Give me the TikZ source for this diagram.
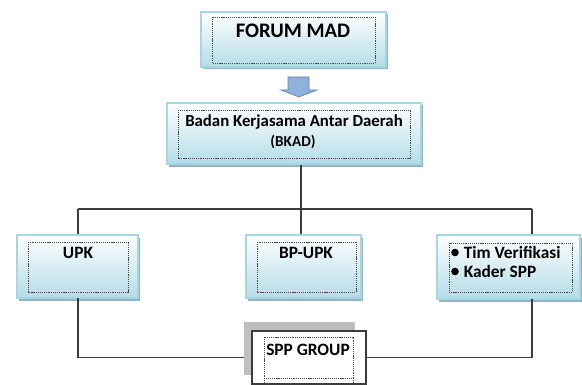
\documentclass[tikz,border=0pt]{standalone}
\usepackage{fontspec}
\setmainfont{Carlito}
\usetikzlibrary{calc}
\definecolor{boxedge}{HTML}{A6D6E3}
\definecolor{boxfill}{HTML}{B3DCE7}
\definecolor{boxshade}{HTML}{93B5C1}
\definecolor{linkcol}{HTML}{3C3C3C}
\definecolor{arrowfill}{HTML}{8EB1DE}
\definecolor{arrowedge}{HTML}{5F82AE}
\begin{document}
\begin{tikzpicture}[x=0.75pt,y=-0.75pt,
  orgbox/.style={draw=boxedge, line width=1.1pt, top color=white, bottom color=boxfill,
    inner sep=0pt, rectangle},
  innerbox/.style={draw=black!70, line width=0.45pt, dash pattern=on 0.9pt off 0.7pt},
  link/.style={draw=linkcol, line width=0.8pt},
  linkshade/.style={draw=black!25, line width=0.8pt, yshift=-0.8pt},
  lbl/.style={font=\bfseries, inner sep=0pt, text=black},
  midlbl/.style={lbl, font=\bfseries\fontsize{13}{15}\selectfont},
]
\useasboundingbox (0,0) rectangle (582,385);

% box with a soft shadow; name, x1, y1, x2, y2
\newcommand\orgnode[5]{%
  \fill[boxshade] (#2+2,#3+2.5) rectangle (#4+2,#5+2.5);
  \node[orgbox, minimum width={(#4-#2)*0.75pt}, minimum height={(#5-#3)*0.75pt}]
    (#1) at ({(#2+#4)/2},{(#3+#5)/2}) {};
}

% named anchors for the tree
\coordinate (bus) at (301,209);

% boxes
\orgnode{forum}{201}{12}{386}{67}
\draw[innerbox] (212,17) rectangle (375,63);
\node[lbl, font=\bfseries\fontsize{15.5}{17}\selectfont] (forumtxt) at (293,30.5) {FORUM MAD};

\orgnode{bkad}{167}{103}{421}{164}
\draw[innerbox] (178,110) rectangle (410,158);
\node[lbl, font=\bfseries\fontsize{12.6}{14}\selectfont] (bkadtxt1) at (294,122.5) {Badan Kerjasama Antar Daerah};
\node[lbl, font=\bfseries\fontsize{11.4}{13}\selectfont] (bkadtxt2) at (293,142.5) {(BKAD)};

% block arrow between the two top boxes
\fill[arrowfill, draw=arrowedge, line width=0.5pt]
  (288,77) -- (309,77) -- (309,90) -- (317,90) -- (299,97) -- (281,90) -- (288,90) -- cycle;

% connectors (drawn beneath the boxes)
\coordinate (upkcol) at (78,209);
\coordinate (timcol) at (532,209);
\draw[linkshade] (upkcol) -- (timcol);
\draw[link] (bkad.south -| bus) -- (bus);
\draw[link] (upkcol) -- (timcol);
\draw[link] (upkcol) -- (78,236);
\draw[link] (bus) -- (301,236);
\draw[link] (timcol) -- (532,236);

\orgnode{upk}{17}{235}{138}{298}
\draw[innerbox] (28,242) rectangle (128,292);
\node[midlbl] (upktxt) at (78,252.5) {UPK};

\orgnode{bpupk}{246}{235}{361}{298}
\draw[innerbox] (257,242) rectangle (356,292);
\node[midlbl] (bpupktxt) at (306,252.5) {BP-UPK};

\orgnode{tim}{437}{235}{580}{299}
\draw[innerbox] (449,243) rectangle (572,292);
\fill[black] (455,252.5) circle (3.8);
\fill[black] (455,271.5) circle (3.8);
\node[midlbl, anchor=west] (timtxt1) at (463.5,252.5) {Tim Verifikasi};
\node[midlbl, anchor=west] (timtxt2) at (463.5,271.5) {Kader SPP};

% SPP group box and its links
\node[draw=linkcol, line width=0.8pt, fill=white, minimum width={114*0.75pt},
  minimum height={53*0.75pt}, inner sep=0pt] (spp) at (309,357.5) {};
\draw[link] (78,298) |- (spp.west);
\draw[link] (532,299) |- (spp.east);
\fill[black!25] (244,322) rectangle (355,375);
\node[draw=linkcol, line width=0.8pt, fill=white, minimum width={114*0.75pt},
  minimum height={53*0.75pt}, inner sep=0pt] at (spp.center) {};
\draw[innerbox] (264,337) rectangle (353,378);
\draw[innerbox] (264,378) -- (264,384) (353,378) -- (353,384);
\node[midlbl] (spptxt) at (308,350) {SPP GROUP};
\end{tikzpicture}
\end{document}
